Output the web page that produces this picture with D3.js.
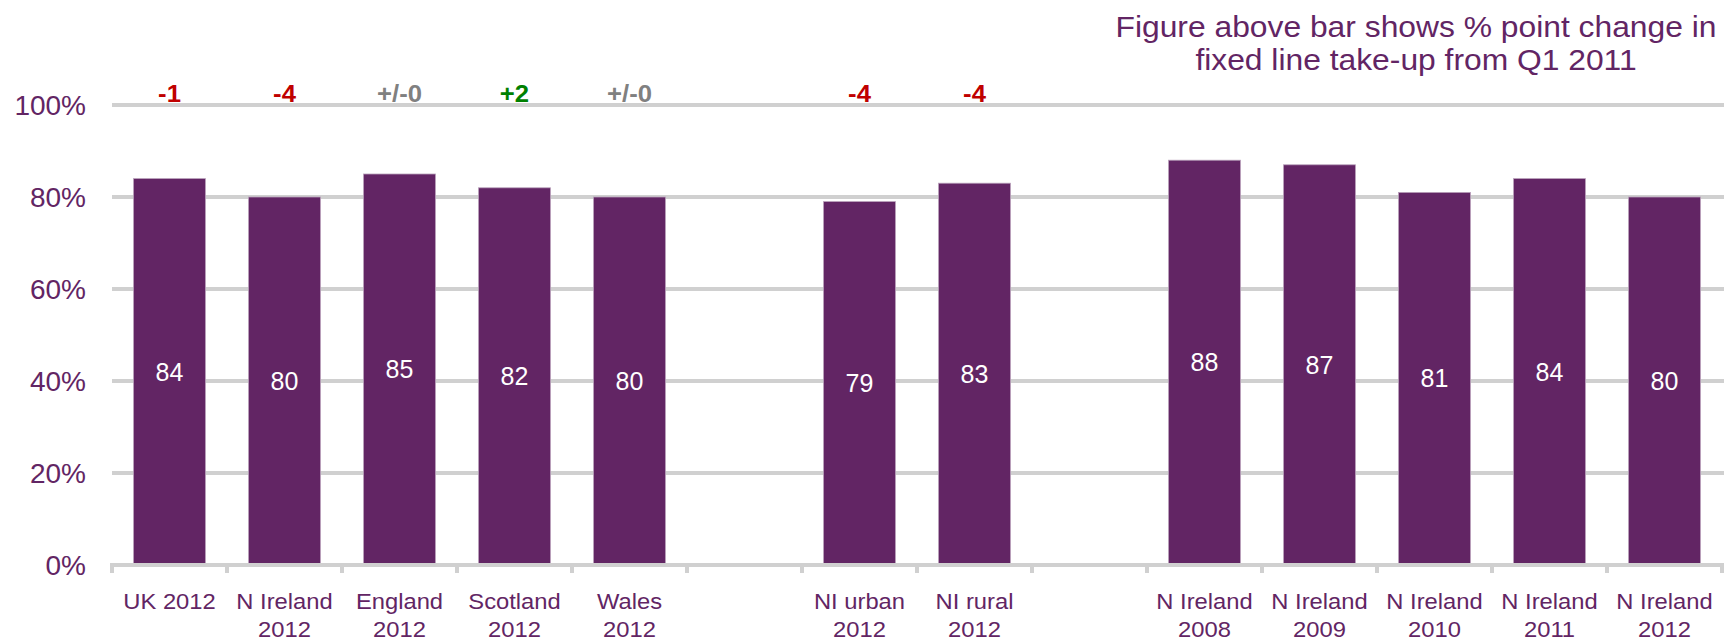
<!DOCTYPE html>
<html>
<head>
<meta charset="utf-8">
<script src="https://cdn.jsdelivr.net/npm/d3@7"></script>
<style>
  html, body { margin: 0; padding: 0; background: #ffffff; }
  svg { display: block; font-family: "Liberation Sans", Arial, sans-serif; }
</style>
</head>
<body>
<svg id="chart" width="1733" height="641"></svg>
<script>
// Slots along the category axis; empty ids leave a gap between groups.
const slots = ["uk12", "ni12", "eng12", "sco12", "wal12", "gap1",
               "niurb12", "nirur12", "gap2",
               "ni08", "ni09", "ni10", "ni11", "ni12b"];
const labelLines = [
  ["UK 2012"], ["N Ireland", "2012"], ["England", "2012"], ["Scotland", "2012"], ["Wales", "2012"], [],
  ["NI urban", "2012"], ["NI rural", "2012"], [],
  ["N Ireland", "2008"], ["N Ireland", "2009"], ["N Ireland", "2010"], ["N Ireland", "2011"], ["N Ireland", "2012"]
];
// Fixed line take-up (%), null where the slot is empty
const takeUp = [84, 80, 85, 82, 80, null, 79, 83, null, 88, 87, 81, 84, 80];
// Percentage point change since Q1 2011
const changes = ["-1", "-4", "+/-0", "+2", "+/-0", "", "-4", "-4", "", "", "", "", "", ""];
const yTicks = [0, 0.2, 0.4, 0.6, 0.8, 1.0];
const titleLines = ["Figure above bar shows % point change in", "fixed line take-up from Q1 2011"];

const purple = "#622564";
const gridGrey = "#d0d0d0";
const changeColour = c => c.startsWith("+/-") ? "#808080" : (c.startsWith("+") ? "#008000" : "#c00000");

const svg = d3.select("#chart");

const x = d3.scaleBand().domain(slots).range([112, 1722]).padding(0);
const y = d3.scaleLinear().domain([0, 1]).range([565, 105]);
const barFrac = 0.625;

// Text placed at (px, py), slightly widened horizontally
function wideText(g, px, py, sx) {
  return g.append("text")
    .attr("transform", `translate(${px},${py}) scale(${sx},1)`)
    .attr("text-anchor", "middle");
}

// Horizontal gridlines
svg.append("g")
  .selectAll("line")
  .data(yTicks.filter(t => t > 0))
  .join("line")
  .attr("x1", 112).attr("x2", 1724)
  .attr("y1", d => y(d)).attr("y2", d => y(d))
  .attr("stroke", gridGrey).attr("stroke-width", 4);

// Y axis labels
const yAxis = d3.axisLeft(y).tickValues(yTicks).tickSize(0).tickPadding(0)
  .tickFormat(d => Math.round(d * 100) + "%");
svg.append("g")
  .attr("transform", "translate(86,0)")
  .call(yAxis)
  .call(g => g.select(".domain").remove())
  .call(g => g.selectAll("text")
    .attr("fill", purple)
    .attr("font-size", 28)
    .attr("font-family", "Liberation Sans, Arial, sans-serif")
    .attr("dy", "0.35em"));

// Bars
const data = slots.map((s, i) => ({ slot: s, value: takeUp[i], change: changes[i], lines: labelLines[i] }));
const bw = x.bandwidth() * barFrac;
const cx = d => x(d.slot) + x.bandwidth() / 2;

svg.append("g")
  .selectAll("rect")
  .data(data.filter(d => d.value !== null))
  .join("rect")
  .attr("x", d => cx(d) - bw / 2)
  .attr("width", bw)
  .attr("y", d => y(d.value / 100))
  .attr("height", d => y(0) - y(d.value / 100))
  .attr("fill", purple)
  .attr("stroke", "#b8a0ba")
  .attr("stroke-width", 0.8);

// Category axis baseline with boundary ticks
const axisG = svg.append("g");
axisG.append("line")
  .attr("x1", 110).attr("x2", 1724)
  .attr("y1", y(0)).attr("y2", y(0))
  .attr("stroke", gridGrey).attr("stroke-width", 4);
const boundaries = slots.map(s => x(s)).concat([x.range()[1]]);
axisG.selectAll("line.tick")
  .data(boundaries)
  .join("line")
  .attr("class", "tick")
  .attr("x1", d => d).attr("x2", d => d)
  .attr("y1", y(0)).attr("y2", y(0) + 8)
  .attr("stroke", gridGrey).attr("stroke-width", 4);

// Values inside bars
svg.append("g")
  .selectAll("text")
  .data(data.filter(d => d.value !== null))
  .join("text")
  .attr("x", cx)
  .attr("y", d => (y(d.value / 100) + y(0)) / 2)
  .attr("dy", "0.35em")
  .attr("text-anchor", "middle")
  .attr("fill", "#ffffff")
  .attr("font-size", 25)
  .text(d => d.value);

// Change figures above the chart
const chgG = svg.append("g");
data.filter(d => d.change).forEach(d => {
  wideText(chgG, cx(d), 102, 1.07)
    .attr("font-weight", "bold")
    .attr("font-size", 24)
    .attr("fill", changeColour(d.change))
    .text(d.change);
});

// Category labels
const catG = svg.append("g");
data.forEach(d => {
  d.lines.forEach((ln, j) => {
    wideText(catG, cx(d), 609 + j * 28, 1.08)
      .attr("fill", purple)
      .attr("font-size", 22)
      .text(ln);
  });
});

// Note at top right
const noteG = svg.append("g");
titleLines.forEach((ln, i) => {
  wideText(noteG, 1416, 37 + i * 33, 1.097)
    .attr("fill", purple)
    .attr("font-size", 29)
    .text(ln);
});
</script>
</body>
</html>
